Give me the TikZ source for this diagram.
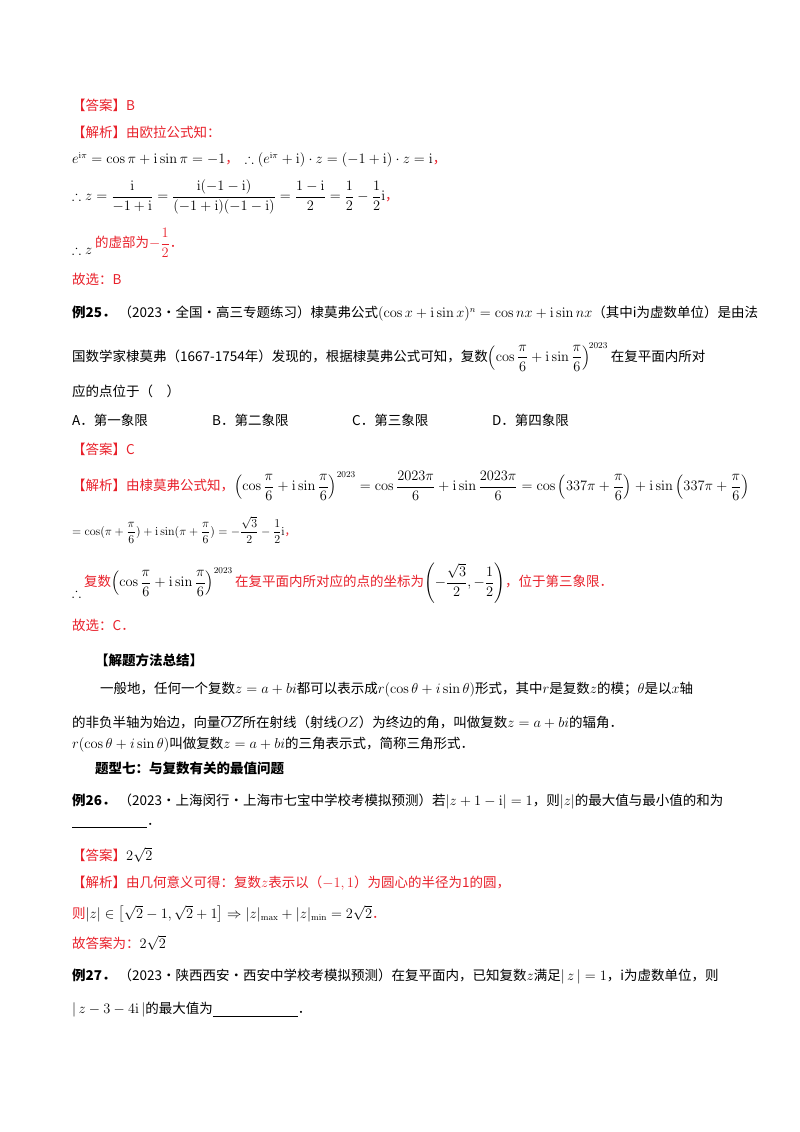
\documentclass[tikz,border=0pt]{standalone}
\usepackage{amsmath,amssymb}
\usepackage[no-math]{fontspec}
\setmainfont{Noto Sans CJK SC}
\definecolor{ansred}{HTML}{E8202A}
\begin{document}
\begin{tikzpicture}[x=1pt,y=-1pt,
  t/.style={anchor=west,inner sep=0pt,font=\fontsize{13.5}{16}\selectfont},
  r/.style={t,text=ansred}]
\useasboundingbox (0,0) rectangle (800,1132);
\node[r] (a1) at (72,105) {【答案】B};
\node[r] (a2) at (72,132) {【解析】由欧拉公式知：};
\node[t] (a3) at (72,160) {$e^{\mathrm{i}\pi}=\cos\pi+\mathrm{i}\sin\pi=-1$\textcolor{ansred}{，}\ \ $\therefore(e^{\mathrm{i}\pi}+\mathrm{i})\cdot z=(-1+\mathrm{i})\cdot z=\mathrm{i}$\textcolor{ansred}{，}};
\node[t] (a4) at (72,197) {$\therefore z=\dfrac{\mathrm{i}}{-1+\mathrm{i}}=\dfrac{\mathrm{i}(-1-\mathrm{i})}{(-1+\mathrm{i})(-1-\mathrm{i})}=\dfrac{1-\mathrm{i}}{2}=\dfrac12-\dfrac12\mathrm{i}$\textcolor{ansred}{，}};
\node[t] (a5) at (72,250) {$\therefore z$};
\node[r] (a6) at (95,243) {的虚部为$-\dfrac12$．};
\node[r] (a7) at (72,279) {故选：B};
\node[t] (b1) at (72,314) {\textbf{例25．}\ （2023·全国·高三专题练习）棣莫弗公式$(\cos x+\mathrm{i}\sin x)^n=\cos nx+\mathrm{i}\sin nx$（其中i为虚数单位）是由法};
\node[t] (b2) at (72,357) {国数学家棣莫弗（1667-1754年）发现的，根据棣莫弗公式可知，复数$\left(\cos\dfrac{\pi}{6}+\mathrm{i}\sin\dfrac{\pi}{6}\right)^{\!2023}$\ 在复平面内所对};
\node[t] (b3) at (72,391) {应的点位于（\quad）};
\node[t] (o1) at (72,420) {A．第一象限};
\node[t] (o2) at (212,420) {B．第二象限};
\node[t] (o3) at (352,420) {C．第三象限};
\node[t] (o4) at (492,420) {D．第四象限};
\node[r] (c1) at (72,449) {【答案】C};
\node[r] (c2) at (72,486) {【解析】由棣莫弗公式知，\textcolor{black}{$\left(\cos\dfrac{\pi}{6}+\mathrm{i}\sin\dfrac{\pi}{6}\right)^{2023}=\cos\dfrac{2023\pi}{6}+\mathrm{i}\sin\dfrac{2023\pi}{6}=\cos\left(337\pi+\dfrac{\pi}{6}\right)+\mathrm{i}\sin\left(337\pi+\dfrac{\pi}{6}\right)$}};
\node[t,font=\fontsize{11.5}{13}\selectfont] (c3) at (72,530) {$=\cos(\pi+\dfrac{\pi}{6})+\mathrm{i}\sin(\pi+\dfrac{\pi}{6})=-\dfrac{\sqrt3}{2}-\dfrac12\mathrm{i}$\textcolor{ansred}{，}};
\node[t] (c4) at (72,593) {$\therefore$};
\node[r] (c5) at (84,583) {复数\textcolor{black}{$\left(\cos\dfrac{\pi}{6}+\mathrm{i}\sin\dfrac{\pi}{6}\right)^{2023}$}\,在复平面内所对应的点的坐标为\textcolor{black}{$\left(-\dfrac{\sqrt3}{2},-\dfrac12\right)$}，位于第三象限．};
\node[r] (c6) at (72,625) {故选：C．};
\node[t] (d1) at (95,660) {\textbf{【解题方法总结】}};
\node[t] (d2) at (100,690) {一般地，任何一个复数$z=a+bi$都可以表示成$r(\cos\theta+i\sin\theta)$形式，其中$r$是复数$z$的模；$\theta$是以$x$轴};
\node[t] (d3) at (72,722) {的非负半轴为始边，向量$\overline{OZ}$所在射线（射线$OZ$）为终边的角，叫做复数$z=a+bi$的辐角．};
\node[t] (d4) at (72,745) {$r(\cos\theta+i\sin\theta)$叫做复数$z=a+bi$的三角表示式，简称三角形式．};
\node[t] (e1) at (95,768) {\textbf{题型七：与复数有关的最值问题}};
\node[t] (e2) at (72,802) {\textbf{例26．}\ （2023·上海闵行·上海市七宝中学校考模拟预测）若$|z+1-\mathrm{i}|=1$，则$|z|$的最大值与最小值的和为};
\node[t] (e3) at (72,826) {\underline{\hspace{75pt}}．};
\node[r] (e4) at (72,855) {【答案】\textcolor{black}{$2\sqrt2$}};
\node[r] (e5) at (72,883) {【解析】由几何意义可得：复数$z$表示以（$-1,1$）为圆心的半径为1的圆，};
\node[t] (e6) at (72,914) {\textcolor{ansred}{则}$|z|\in\bigl[\sqrt2-1,\sqrt2+1\bigr]\Rightarrow|z|_{\max}+|z|_{\min}=2\sqrt2$\textcolor{ansred}{．}};
\node[r] (e7) at (72,943) {故答案为：\textcolor{black}{$2\sqrt2$}};
\node[t] (f1) at (72,977) {\textbf{例27．}\ （2023·陕西西安·西安中学校考模拟预测）在复平面内，已知复数$z$满足$|\,z\,|=1$，i为虚数单位，则};
\node[t] (f2) at (72,1010) {$|\,z-3-4\mathrm{i}\,|$的最大值为\underline{\hspace{85pt}}．};
\end{tikzpicture}
\end{document}
